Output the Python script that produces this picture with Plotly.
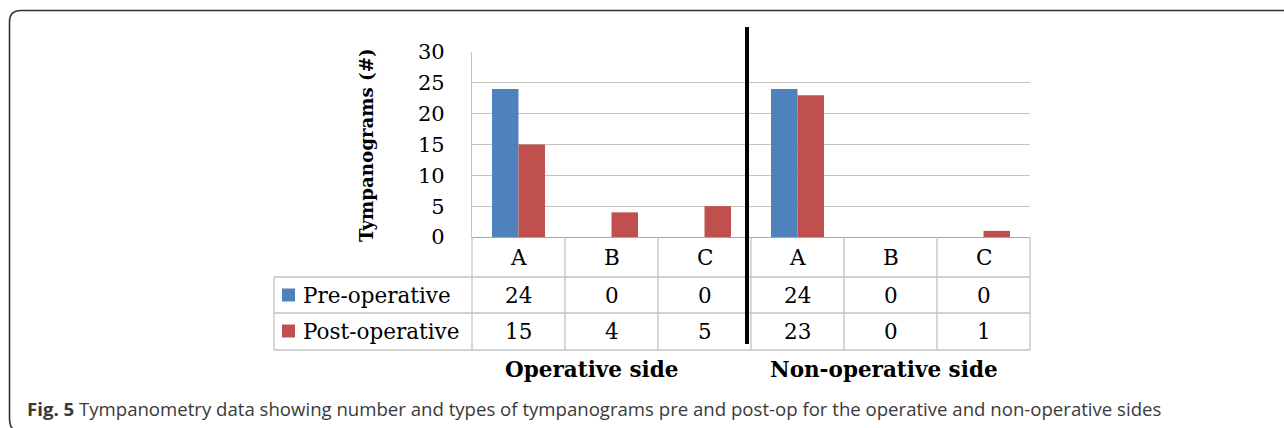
import plotly.graph_objects as go

# ---- data ----
categories = ["A", "B", "C", "A", "B", "C"]
sides = ["Operative side", "Non-operative side"]
series_names = ["Pre-operative", "Post-operative"]
pre_op = [24, 0, 0, 24, 0, 0]
post_op = [15, 4, 5, 23, 0, 1]
y_ticks = [0, 5, 10, 15, 20, 25, 30]
y_title = "Tympanograms (#)"
caption_bold = "Fig. 5"
caption_text = ("Tympanometry data showing number and types of tympanograms pre and "
                "post-op for the operative and non-operative sides")

# ---- style / layout ----
colors = ["#4F81BD", "#C0504D"]
GRID = "#C3C3C3"
SERIF = "DejaVu Serif"
FIG_W, FIG_H = 1284, 428
PL, PR, PT, PB = 472, 1030, 52, 237   # plot area in pixels
PW, PH = PR - PL, PB - PT
SIDE_LABEL_X = [591, 884]             # pixel centres of the side labels


def xp(px):
    return (px - PL) / PW


def yp(py):
    return (PB - py) / PH


idx = list(range(len(categories)))
series = [pre_op, post_op]

fig = go.Figure()
for name, vals, col in zip(series_names, series, colors):
    fig.add_trace(go.Bar(x=idx, y=vals, name=name, marker=dict(color=col, line=dict(width=0)),
                         showlegend=False))

shapes = []
ann = []
n = len(categories)
CELL = dict(family=SERIF, size=21.5, color="black")

# table row lines
row_lines = [277, 313, 350]
for py in row_lines:
    shapes.append(dict(type="line", xref="paper", yref="paper", x0=xp(274), x1=1,
                       y0=yp(py), y1=yp(py), line=dict(color=GRID, width=1.3)))
# column lines
for i in range(n + 1):
    shapes.append(dict(type="line", xref="paper", yref="paper", x0=i / n, x1=i / n,
                       y0=0, y1=yp(350), line=dict(color=GRID, width=1.3)))
shapes.append(dict(type="line", xref="paper", yref="paper", x0=xp(274), x1=xp(274),
                   y0=yp(277), y1=yp(350), line=dict(color=GRID, width=1.3)))
# thick divider
shapes.append(dict(type="line", xref="paper", yref="paper", x0=xp(747), x1=xp(747),
                   y0=yp(27), y1=yp(344), line=dict(color="black", width=4)))
# outer rounded frame
frame = (f"M {xp(1300)},{yp(10.5)} L {xp(21)},{yp(10.5)} "
         f"Q {xp(9.5)},{yp(10.5)} {xp(9.5)},{yp(22)} L {xp(9.5)},{yp(418)} "
         f"Q {xp(9.5)},{yp(427)} {xp(14)},{yp(430)}")
shapes.append(dict(type="path", xref="paper", yref="paper", path=frame,
                   line=dict(color="#333333", width=1.6)))

# category labels
for i, c in enumerate(categories):
    ann.append(dict(x=i, y=yp(257), xref="x", yref="paper", text=c, showarrow=False,
                    xanchor="center", yanchor="middle", font=CELL))
# values + legend keys
row_centers = [295, 331]
for name, vals, col, rc in zip(series_names, series, colors, row_centers):
    for i, v in enumerate(vals):
        ann.append(dict(x=i, y=yp(rc), xref="x", yref="paper", text=str(v), showarrow=False,
                        xanchor="center", yanchor="middle", font=CELL))
    shapes.append(dict(type="rect", xref="paper", yref="paper", x0=xp(282), x1=xp(295),
                       y0=yp(rc + 6.5), y1=yp(rc - 6.5), fillcolor=col, line=dict(width=0)))
    ann.append(dict(x=xp(301), y=yp(rc), xref="paper", yref="paper", text=name,
                    showarrow=False, xanchor="left", yanchor="middle", font=CELL))
# side labels
for s, cx in zip(sides, SIDE_LABEL_X):
    ann.append(dict(x=xp(cx), y=yp(369), xref="paper", yref="paper", text=f"<b>{s}</b>",
                    showarrow=False, xanchor="center", yanchor="middle",
                    font=dict(family=SERIF, size=21.5, color="black")))
# y title
ann.append(dict(x=xp(366), y=yp(145), xref="paper", yref="paper", text=f"<b>{y_title}</b>",
                showarrow=False, textangle=-90, xanchor="center", yanchor="middle",
                font=dict(family=SERIF, size=18.2, color="black")))
# caption
ann.append(dict(x=xp(25), y=yp(408), xref="paper", yref="paper", xanchor="left",
                yanchor="middle",
                text=f"<b>{caption_bold}</b> {caption_text}", showarrow=False,
                font=dict(family="Open Sans", size=18.6, color="#3a3a3a")))

fig.update_layout(
    width=FIG_W, height=FIG_H,
    margin=dict(l=PL, r=FIG_W - PR, t=PT, b=FIG_H - PB, pad=0),
    paper_bgcolor="white", plot_bgcolor="white",
    barmode="group", bargap=0.43, bargroupgap=0,
    shapes=shapes, annotations=ann, showlegend=False,
    xaxis=dict(range=[-0.5, n - 0.5], showticklabels=False, showgrid=False, zeroline=False,
               showline=True, linecolor="#A6A6A6", linewidth=1.3, ticks=""),
    yaxis=dict(range=[0, 30], tickvals=y_ticks, showgrid=True, gridcolor=GRID, gridwidth=1.3,
               zeroline=False, showline=True, linecolor=GRID, linewidth=1.3, ticks="",
               ticklabelstandoff=22,
               tickfont=dict(family=SERIF, size=21, color="black")),
)

fig.write_html("out.html", config={"displayModeBar": False},
               post_script="document.body.style.margin='0px';document.body.style.overflow='hidden';")
